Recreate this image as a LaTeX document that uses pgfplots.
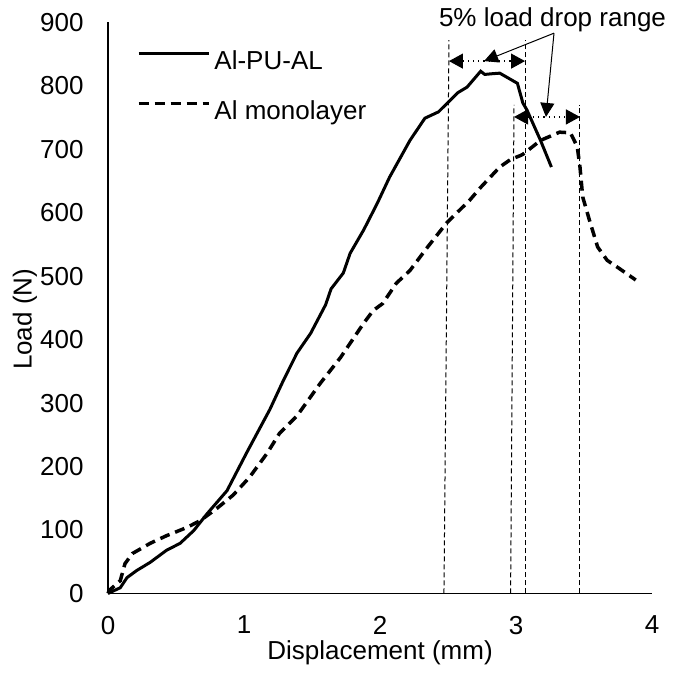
\documentclass[border=0pt]{standalone}
\usepackage{fontspec}
\setmainfont{Liberation Sans}
\usepackage{pgfplots}
\pgfplotsset{compat=1.18}
\usetikzlibrary{arrows.meta}

\begin{document}
\begin{tikzpicture}[font=\fontsize{13}{15.6}\selectfont]
\begin{axis}[
    scale only axis,
    width=272pt,
    height=285.5pt,
    xmin=0, xmax=4,
    ymin=0, ymax=900,
    axis x line=bottom,
    axis y line=left,
    axis line style={-, line width=0.75pt},
    xtick={0,1,2,3,4},
    ytick={0,100,...,900},
    major tick length=0pt,
    tick style={draw=none},
    /pgf/number format/assume math mode=true,
    tick label style={font=\fontsize{13}{15.6}\selectfont},
    xticklabel style={yshift=-7.7pt},
    yticklabel style={xshift=-8.7pt},
    xlabel={Displacement (mm)},
    ylabel={Load (N)},
    label style={font=\fontsize{13}{15.6}\selectfont},
    xlabel style={at={(axis description cs:0.5,-0.1033)}, anchor=center},
    ylabel style={at={(axis description cs:-0.1526,0.48)}, anchor=center},
    clip=false,
    legend style={
        at={(axis cs:0.21,856)},
        anchor=north west,
        draw=none,
        fill=none,
        inner sep=0pt,
        row sep=13pt,
        column sep=2pt,
        font=\fontsize{13}{15.6}\selectfont,
        nodes={inner sep=0pt, text height=9.5pt, text depth=2.5pt}
    },
    legend cell align=left,
    legend image code/.code={\draw[#1] (0pt,4.6pt) -- (35pt,4.6pt);}
]

% --- Al-PU-AL ---
\addplot[black, line width=1.5pt] coordinates {
(0,0) (0.09,9) (0.14,25) (0.21,36) (0.31,49) (0.43,68) (0.53,79) (0.63,99)
(0.73,126) (0.875,162) (1.02,222) (1.19,290) (1.29,336) (1.39,379) (1.49,410)
(1.60,455) (1.64,480) (1.73,505) (1.78,536) (1.88,573) (1.98,615) (2.07,656)
(2.22,714) (2.33,749) (2.43,759) (2.57,789) (2.64,798) (2.74,823) (2.77,818)
(2.82,819) (2.88,820) (3.01,804) (3.05,773) (3.08,762) (3.18,714) (3.26,672)
};
\addlegendentry{Al-PU-AL}

% --- Al monolayer ---
\addplot[black, line width=1.75pt, dash pattern=on 5pt off 3pt] coordinates {
(0,0) (0.01,5) (0.09,20) (0.125,47) (0.18,63) (0.31,79) (0.43,91) (0.58,104)
(0.68,115) (0.80,134) (0.92,155) (1.04,183) (1.17,221) (1.26,252) (1.39,280)
(1.56,331) (1.71,372) (1.88,426) (1.95,446) (2.02,457) (2.07,473) (2.12,489)
(2.22,509) (2.35,546) (2.49,584) (2.66,620) (2.74,640) (2.81,656) (2.88,672)
(2.96,684) (3.03,690) (3.05,692) (3.18,714) (3.32,727) (3.40,726) (3.45,704)
(3.47,672) (3.49,625) (3.54,588) (3.60,546) (3.67,525) (3.76,512) (3.88,494)
};
\addlegendentry{Al monolayer}

% --- 5% load drop range markers ---
\addplot[forget plot, black, line width=0.5pt, dash pattern=on 2.5pt off 1.5pt] coordinates {(2.47,0) (2.507,872)};
\addplot[forget plot, black, line width=0.5pt, dash pattern=on 2.5pt off 1.5pt] coordinates {(3.066,0) (3.066,872)};
\addplot[forget plot, black, line width=0.5pt, dash pattern=on 2.5pt off 1.5pt] coordinates {(2.96,0) (2.985,770)};
\addplot[forget plot, black, line width=0.5pt, dash pattern=on 2.5pt off 1.5pt] coordinates {(3.47,0) (3.47,770)};

\draw[black, dotted, line width=0.6pt, {Triangle[length=7pt,width=7.5pt]}-{Triangle[length=7pt,width=7.5pt]}]
    (axis cs:2.507,839) -- (axis cs:3.066,839);
\draw[black, dotted, line width=0.6pt, {Triangle[length=7pt,width=7.5pt]}-{Triangle[length=7pt,width=7.5pt]}]
    (axis cs:2.985,751) -- (axis cs:3.47,751);
\draw[black, line width=0.5pt, -{Triangle[length=7pt,width=7pt]}] (axis cs:3.279,883) -- (axis cs:2.765,839);
\draw[black, line width=0.5pt, -{Triangle[length=7pt,width=7pt]}] (axis cs:3.279,883) -- (axis cs:3.22,751);
\node[anchor=base, font=\fontsize{13}{15.6}\selectfont] at (axis cs:3.268,893) {5\% load drop range};

% frame of the whole picture
\path (axis cs:-0.794,-124.6) rectangle (axis cs:4.154,935.3);
\end{axis}
\end{tikzpicture}
\end{document}
